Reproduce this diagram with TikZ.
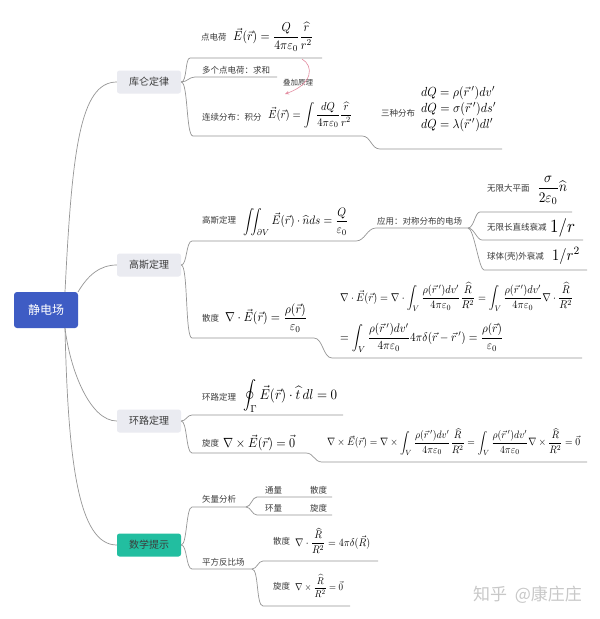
\documentclass[tikz,border=0pt]{standalone}
\usepackage{fontspec}
\usepackage{amsmath}
\usepackage{graphicx}
\newfontfamily\cjk{Noto Sans CJK SC}
\usetikzlibrary{arrows.meta}
\definecolor{rootblue}{RGB}{62,92,196}
\definecolor{tealbox}{RGB}{34,190,160}
\definecolor{boxgray}{RGB}{234,235,241}
\definecolor{linegray}{RGB}{150,150,150}
\definecolor{labelgray}{RGB}{60,60,60}
\definecolor{pinkc}{RGB}{228,140,160}
\definecolor{wmgray}{RGB}{200,200,200}
\newcommand\fw[2]{\scalebox{1}[1.1]{\resizebox{#1pt}{!}{$\displaystyle #2$}}}
\begin{document}
\begin{tikzpicture}[x=1pt,y=-1pt,
  conn/.style={draw=linegray, line width=0.7pt},
  lbl/.style={font=\cjk\fontsize{8.5}{10}\selectfont, text=labelgray, inner sep=0pt, anchor=west},
  fm/.style={inner sep=0pt, anchor=west},
  lone/.style={fill=boxgray, rounded corners=2.5pt, minimum width=64pt, minimum height=23pt, inner sep=0pt, font=\cjk\fontsize{10}{12}\selectfont, text=labelgray},
  rootbox/.style={fill=rootblue, rounded corners=3pt, minimum width=64pt, minimum height=36pt, inner sep=0pt, font=\cjk\fontsize{12}{14}\selectfont, text=white}]
\useasboundingbox[fill=white] (0,0) rectangle (600,619);

% main nodes
\node[rootbox] (root) at (46,310) {静电场};
\node[lone] (kl) at (149,82) {库仑定律};
\node[lone] (gs) at (149,265) {高斯定理};
\node[lone] (hl) at (149,421) {环路定理};
\node[lone, fill=tealbox] (sx) at (149,545) {数学提示};

% root connectors
\coordinate (rt1) at (65,292);
\coordinate (rt2) at (78,292);
\coordinate (rb) at (65,328);
\draw[conn] (rt1) .. controls (72,150) and (80,82) .. (kl.west);
\draw[conn] (rt2) .. controls (88,275) and (100,265) .. (gs.west);
\draw[conn] (rb) .. controls (70,370) and (90,421) .. (hl.west);
\draw[conn] (rb) .. controls (68,460) and (78,545) .. (sx.west);

% ---------- Coulomb ----------
\coordinate (a1) at (190,58); \coordinate (a1e) at (322,58);
\coordinate (a2) at (195,77); \coordinate (a2e) at (277,77);
\coordinate (a3) at (193,136); \coordinate (a3m) at (362,136);
\coordinate (a4) at (380,149); \coordinate (a4e) at (502,149);
\draw[conn] (kl.east) .. controls +(6,0) and +(-5,0) .. (a1) -- (a1e);
\draw[conn] (kl.east) .. controls +(6,0) and +(-6,0) .. (a2) -- (a2e);
\draw[conn] (kl.east) .. controls +(7,0) and +(-7,0) .. (a3) -- (a3m) .. controls +(9,0) and +(-9,0) .. (a4) -- (a4e);

\node[lbl] (t1) at (201,37) {点电荷};
\node[fm] (f1) at (233,37) {\fw{80}{\vec E(\vec r)=\frac{Q}{4\pi\varepsilon_0}\frac{\widehat{r}}{r^2}}};
\node[lbl] (t2) at (202,70) {多个点电荷：求和};
\node[lbl, font=\cjk\fontsize{7.5}{9}\selectfont] (t3) at (283,83) {叠加原理};
\coordinate (sa) at (302,59); \coordinate (sb) at (285,94);
\draw[pinkc, line width=0.6pt, -{Stealth[length=4pt,width=3.5pt]}] (sa) .. controls (314,66) and (313,84) .. (sb);
\node[lbl] (t4) at (202,117) {连续分布：积分};
\node[fm] (f4) at (268,115) {\fw{84}{\vec E(\vec r)=\int\frac{dQ}{4\pi\varepsilon_0}\frac{\widehat{r}}{r^2}}};
\node[lbl] (t5) at (381,113) {三种分布};
\node[fm] (q1) at (421,93) {\fw{74}{dQ=\rho(\vec r\,')dv'}};
\node[fm] (q2) at (421,109) {\fw{75}{dQ=\sigma(\vec r\,')ds'}};
\node[fm] (q3) at (421,125) {\fw{72}{dQ=\lambda(\vec r\,')dl'}};

% ---------- Gauss ----------
\coordinate (b1) at (192,241); \coordinate (b1m) at (356,241);
\coordinate (b2) at (376,228); \coordinate (app) at (468,228);
\draw[conn] (gs.east) .. controls +(6,0) and +(-6,0) .. (b1) -- (b1m) .. controls +(9,0) and +(-9,0) .. (b2) -- (app);
\coordinate (c1) at (480,212); \coordinate (c1e) at (572,212);
\coordinate (c2) at (482,240); \coordinate (c2e) at (583,240);
\coordinate (c3) at (484,270); \coordinate (c3e) at (587,270);
\draw[conn] (app) .. controls +(6,0) and +(-5,0) .. (c1) -- (c1e);
\draw[conn] (app) .. controls +(6,0) and +(-5,0) .. (c2) -- (c2e);
\draw[conn] (app) .. controls +(6,0) and +(-5,0) .. (c3) -- (c3e);

\node[lbl] (t6) at (202,220) {高斯定理};
\node[fm] (f6) at (243,222) {\fw{105}{\iint\nolimits_{\partial V}\vec E(\vec r)\cdot\widehat{n}ds=\frac{Q}{\varepsilon_0}}};
\node[lbl] (t7) at (377,221) {应用：对称分布的电场};
\node[lbl] (t8) at (487,188) {无限大平面};
\node[fm] (f8) at (537,190) {\fw{30}{\frac{\sigma}{2\varepsilon_0}\widehat{n}}};
\node[lbl] (t9) at (487,227) {无限长直线衰减};
\node[fm] (f9) at (550,228) {\fw{25}{1/r}};
\node[lbl] (t10) at (487,257) {球体(壳)外衰减};
\node[fm] (f10) at (552,256) {\fw{28}{1/r^2}};

\coordinate (d1) at (192,338); \coordinate (d1m) at (314,338);
\coordinate (d2) at (332,358); \coordinate (d2e) at (582,358);
\draw[conn] (gs.east) .. controls +(7,0) and +(-7,0) .. (d1) -- (d1m) .. controls +(9,0) and +(-9,0) .. (d2) -- (d2e);
\node[lbl] (t11) at (202,318) {散度};
\node[fm] (f11) at (225,318) {\fw{82}{\nabla\cdot\vec E(\vec r)=\frac{\rho(\vec r)}{\varepsilon_0}}};
\node[fm] (f12) at (340,297) {\fw{233}{\nabla\cdot\vec E(\vec r)=\nabla\cdot\int_V\frac{\rho(\vec r\,')dv'}{4\pi\varepsilon_0}\frac{\widehat{R}}{R^2}=\int_V\frac{\rho(\vec r\,')dv'}{4\pi\varepsilon_0}\nabla\cdot\frac{\widehat{R}}{R^2}}};
\node[fm] (f13) at (340,338) {\fw{163}{=\int_V\frac{\rho(\vec r\,')dv'}{4\pi\varepsilon_0}4\pi\delta(\vec r-\vec r\,')=\frac{\rho(\vec r)}{\varepsilon_0}}};

% ---------- Circulation ----------
\coordinate (e1) at (192,415); \coordinate (e1e) at (343,415);
\draw[conn] (hl.east) .. controls +(5,0) and +(-5,0) .. (e1) -- (e1e);
\node[lbl] (t14) at (202,397) {环路定理};
\node[fm] (f14) at (243,396) {\fw{94}{\oint\nolimits_\Gamma\vec E(\vec r)\cdot\widehat{t}\,dl=0}};
\coordinate (g1) at (192,453); \coordinate (g1m) at (306,453);
\coordinate (g2) at (322,462); \coordinate (g2e) at (587,462);
\draw[conn] (hl.east) .. controls +(6,0) and +(-6,0) .. (g1) -- (g1m) .. controls +(8,0) and +(-8,0) .. (g2) -- (g2e);
\node[lbl] (t15) at (202,443) {旋度};
\node[fm] (f15) at (223,443) {\fw{72}{\nabla\times\vec E(\vec r)=\vec 0}};
\node[fm] (f16) at (327,442) {\fw{253}{\nabla\times\vec E(\vec r)=\nabla\times\int_V\frac{\rho(\vec r\,')dv'}{4\pi\varepsilon_0}\frac{\widehat{R}}{R^2}=\int_V\frac{\rho(\vec r\,')dv'}{4\pi\varepsilon_0}\nabla\times\frac{\widehat{R}}{R^2}=\vec 0}};

% ---------- Math hints ----------
\coordinate (h0) at (192,507); \coordinate (h0e) at (246,507);
\coordinate (h1) at (257,497); \coordinate (h1e) at (332,497);
\coordinate (h2) at (257,515); \coordinate (h2e) at (332,515);
\draw[conn] (sx.east) .. controls +(6,0) and +(-6,0) .. (h0) -- (h0e);
\draw[conn] (h0e) .. controls +(5,0) and +(-5,0) .. (h1) -- (h1e);
\draw[conn] (h0e) .. controls +(5,0) and +(-5,0) .. (h2) -- (h2e);
\node[lbl] (t17) at (202,499) {矢量分析};
\node[lbl] (t18) at (265,490) {通量};
\node[lbl] (t19) at (310,490) {散度};
\node[lbl] (t20) at (265,508) {环量};
\node[lbl] (t21) at (310,508) {旋度};

\coordinate (k0) at (192,569); \coordinate (k0e) at (252,569);
\coordinate (k1) at (263,561); \coordinate (k1e) at (378,561);
\coordinate (k2) at (263,606); \coordinate (k2e) at (350,606);
\draw[conn] (sx.east) .. controls +(6,0) and +(-6,0) .. (k0) -- (k0e);
\draw[conn] (k0e) .. controls +(5,0) and +(-5,0) .. (k1) -- (k1e);
\draw[conn] (k0e) .. controls +(7,0) and +(-7,0) .. (k2) -- (k2e);
\node[lbl] (t22) at (202,562) {平方反比场};
\node[lbl] (t23) at (273,541) {散度};
\node[fm] (f23) at (295,541) {\fw{75}{\nabla\cdot\frac{\widehat{R}}{R^2}=4\pi\delta(\vec R)}};
\node[lbl] (t24) at (273,586) {旋度};
\node[fm] (f24) at (295,586) {\fw{48}{\nabla\times\frac{\widehat{R}}{R^2}=\vec 0}};

% watermark
\node[anchor=west, inner sep=0pt, text=wmgray, font=\cjk\fontsize{17}{19}\selectfont] (wm) at (473,595) {知乎\ \ @康庄庄};
\end{tikzpicture}
\end{document}
